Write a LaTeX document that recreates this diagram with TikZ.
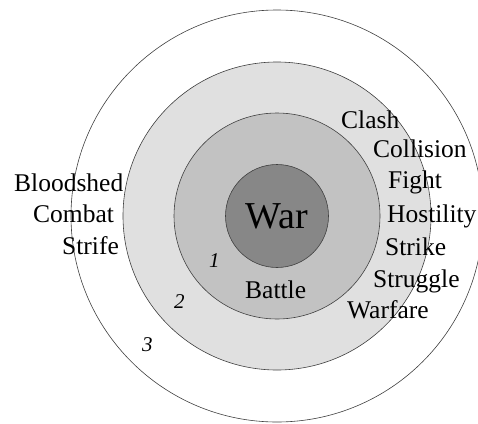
\documentclass[tikz,border=0pt]{standalone}
\usepackage{fontspec}
\setmainfont{Liberation Serif}
\begin{document}
\begin{tikzpicture}[x=1pt,y=-1pt,
  ring/.style={draw=black!75,line width=0.6pt},
  word/.style={anchor=base west,inner sep=0pt,font=\fontsize{25.5}{30}\selectfont},
  num/.style={anchor=base west,inner sep=0pt,font=\fontsize{21}{24}\selectfont\itshape}]
\useasboundingbox (0,0) rectangle (478,423);
\coordinate (c) at (277,216);
\draw[ring,fill=white] (c) circle[radius=206];
\draw[ring,fill=black!12] (c) circle[radius=154];
\draw[ring,fill=black!24] (c) circle[radius=103];
\draw[ring,fill=black!47] (c) circle[radius=51.5];
\node[anchor=base,inner sep=0pt,font=\fontsize{38}{44}\selectfont] (war) at (276.5,228) {War};
\node[word] (battle) at (245,298) {Battle};
\node[word] (clash) at (341,128) {Clash};
\node[word] (collision) at (373,157) {Collision};
\node[word] (fight) at (388,188) {Fight};
\node[word] (hostility) at (387,222) {Hostility};
\node[word] (strike) at (385,255) {Strike};
\node[word] (struggle) at (373,287) {Struggle};
\node[word] (warfare) at (347,318) {Warfare};
\node[word] (bloodshed) at (14,191) {Bloodshed};
\node[word] (combat) at (33,222) {Combat};
\node[word] (strife) at (62,254) {Strife};
\node[num] (n1) at (209,267) {1};
\node[num] (n2) at (174,308) {2};
\node[num] (n3) at (142,351) {3};
\end{tikzpicture}
\end{document}
